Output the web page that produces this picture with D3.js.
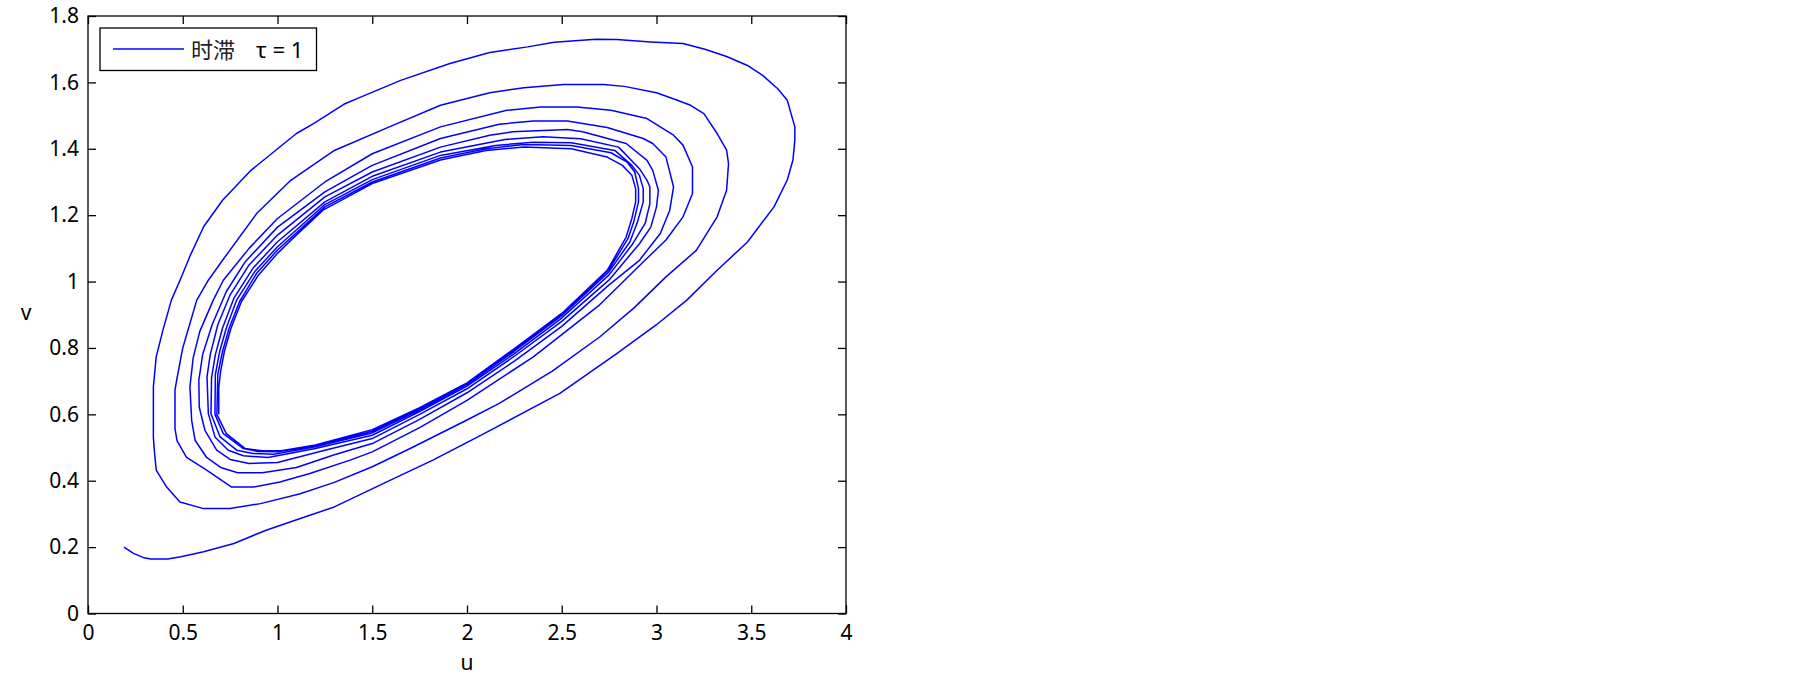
<!DOCTYPE html>
<html>
<head>
<meta charset="utf-8">
<script src="https://cdn.jsdelivr.net/npm/d3@7"></script>
<style>
  html, body { margin: 0; padding: 0; background: #ffffff; }
  svg { display: block; }
</style>
</head>
<body>
<svg id="chart" width="1805" height="677"></svg>
<script>
// ---- data (u, v), spiral pass by pass ----
const xTicks = [0, 0.5, 1, 1.5, 2, 2.5, 3, 3.5, 4];
const xTickLabels = ["0", "0.5", "1", "1.5", "2", "2.5", "3", "3.5", "4"];
const yTicks = [0, 0.2, 0.4, 0.6, 0.8, 1, 1.2, 1.4, 1.6, 1.8];
const yTickLabels = ["0", "0.2", "0.4", "0.6", "0.8", "1", "1.2", "1.4", "1.6", "1.8"];
const xLabel = "u";
const yLabel = "v";
const legendLabelCN = "时滞";
const legendLabelTau = "τ = 1";

const pass1 = [
  [0.19,0.200],[0.24,0.181],[0.29,0.169],[0.33,0.164],[0.42,0.164],[0.49,0.171],[0.61,0.186],[0.77,0.211],
  [0.94,0.251],[1.12,0.286],[1.30,0.321],[1.56,0.392],[1.82,0.462],[2.09,0.542],[2.49,0.663],[2.79,0.783],
  [3.00,0.870],[3.16,0.944],[3.32,1.034],[3.48,1.119],[3.62,1.225],[3.69,1.306],[3.72,1.366],[3.73,1.426],
  [3.73,1.466],[3.71,1.506],[3.69,1.546],[3.64,1.581],[3.56,1.621],[3.48,1.651],[3.37,1.678],[3.26,1.699],
  [3.14,1.717],[2.97,1.722],[2.79,1.729],[2.68,1.730],[2.46,1.721],[2.32,1.707],[2.12,1.690],[1.91,1.657],
  [1.65,1.606],[1.42,1.551],[1.35,1.534],[1.19,1.476],[1.10,1.446],[0.86,1.335],[0.71,1.245],[0.61,1.165],
  [0.54,1.079],[0.49,1.010],[0.44,0.944],[0.395,0.853],[0.36,0.773],[0.345,0.683],[0.345,0.530],[0.35,0.492],
  [0.36,0.432],[0.415,0.381],[0.485,0.336],[0.61,0.316],[0.75,0.316],[0.91,0.331],[1.12,0.361],[1.30,0.395]
];
const pass2 = [
  [1.50,0.442],[1.70,0.497],[2.00,0.583],[2.17,0.633],[2.45,0.730],[2.70,0.833],[2.88,0.920],[3.05,1.014],
  [3.21,1.094],[3.32,1.195],[3.37,1.275],[3.38,1.355],[3.37,1.396],[3.32,1.446],[3.25,1.506],[3.18,1.531],
  [3.11,1.546],[3.00,1.569],[2.83,1.588],[2.72,1.594],[2.51,1.594],[2.30,1.584],[2.12,1.569],[1.86,1.531],
  [1.59,1.466],[1.30,1.395],[1.07,1.305],[0.89,1.205],[0.71,1.064],[0.635,1.004],[0.574,0.944],[0.50,0.800],
  [0.468,0.703],[0.459,0.673],[0.459,0.557],[0.47,0.520],[0.52,0.470],[0.626,0.432],[0.758,0.381],[0.873,0.381],
  [1.013,0.396],[1.171,0.422],[1.383,0.462]
];
const pass3 = [
  [1.50,0.487],[1.75,0.560],[2.00,0.642],[2.35,0.773],[2.50,0.840],[2.70,0.930],[2.95,1.070],[3.05,1.125],
  [3.14,1.195],[3.19,1.265],[3.19,1.345],[3.14,1.411],[3.09,1.441],[2.95,1.491],[2.76,1.516],[2.58,1.526],
  [2.39,1.526],[2.21,1.516],[1.86,1.466],[1.50,1.385],[1.25,1.300],[1.00,1.190],[0.85,1.100],[0.714,1.004],
  [0.661,0.944],[0.59,0.850],[0.555,0.770],[0.538,0.683],[0.547,0.582],[0.565,0.522],[0.626,0.470],[0.70,0.440],
  [0.79,0.424],[0.92,0.424],[1.10,0.440],[1.30,0.478]
];
const pass4 = [
  [1.50,0.512],[1.75,0.585],[2.00,0.665],[2.25,0.760],[2.50,0.865],[2.75,0.990],[2.91,1.064],[3.02,1.145],
  [3.07,1.215],[3.09,1.285],[3.05,1.375],[2.98,1.416],[2.93,1.431],[2.74,1.464],[2.53,1.484],[2.35,1.484],
  [2.17,1.474],[1.86,1.431],[1.50,1.350],[1.25,1.270],[1.00,1.164],[0.83,1.060],[0.73,0.970],[0.655,0.870],
  [0.605,0.780],[0.585,0.703],[0.587,0.622],[0.617,0.552],[0.679,0.492],[0.75,0.464],[0.85,0.452],[1.00,0.455],
  [1.25,0.492]
];
const pass5 = [
  [1.50,0.527],[1.75,0.600],[2.00,0.677],[2.25,0.775],[2.50,0.880],[2.75,1.005],[2.91,1.114],[2.97,1.164],
  [3.00,1.225],[3.01,1.275],[2.98,1.335],[2.95,1.365],[2.84,1.416],[2.61,1.451],[2.53,1.458],[2.24,1.451],
  [2.12,1.441],[1.86,1.405],[1.50,1.330],[1.25,1.255],[1.00,1.140],[0.85,1.050],[0.75,0.960],[0.685,0.870],
  [0.645,0.780],[0.628,0.713],[0.635,0.602],[0.670,0.532],[0.740,0.492],[0.82,0.475],[0.95,0.470],[1.20,0.497]
];
const pass6 = [
  [1.50,0.537],[1.75,0.608],[2.00,0.685],[2.25,0.783],[2.50,0.890],[2.75,1.020],[2.87,1.110],[2.94,1.175],
  [2.965,1.235],[2.965,1.285],[2.95,1.305],[2.91,1.340],[2.80,1.405],[2.60,1.430],[2.40,1.436],[2.20,1.428],
  [1.86,1.390],[1.50,1.317],[1.25,1.240],[1.00,1.120],[0.87,1.040],[0.77,0.950],[0.71,0.860],[0.672,0.780],
  [0.652,0.710],[0.649,0.602],[0.697,0.532],[0.785,0.492],[0.87,0.482],[0.98,0.480],[1.20,0.502]
];
const pass7 = [
  [1.50,0.544],[1.75,0.613],[2.00,0.690],[2.25,0.790],[2.50,0.897],[2.75,1.030],[2.86,1.120],[2.90,1.180],
  [2.93,1.240],[2.93,1.280],[2.91,1.320],[2.87,1.350],[2.78,1.395],[2.55,1.418],[2.35,1.420],[2.15,1.410],
  [1.86,1.380],[1.50,1.307],[1.25,1.232],[1.00,1.105],[0.88,1.030],[0.785,0.945],[0.73,0.860],[0.695,0.790],
  [0.672,0.720],[0.67,0.600],[0.714,0.542],[0.82,0.497],[0.90,0.488],[1.00,0.487],[1.20,0.505]
];
const pass8 = [
  [1.50,0.549],[1.75,0.617],[2.00,0.693],[2.25,0.795],[2.50,0.901],[2.75,1.037],[2.85,1.130],[2.88,1.180],
  [2.905,1.240],[2.905,1.280],[2.885,1.330],[2.845,1.360],[2.76,1.388],[2.55,1.410],[2.30,1.413],[2.10,1.400],
  [1.86,1.372],[1.50,1.300],[1.25,1.225],[1.00,1.095],[0.89,1.025],[0.80,0.940],[0.745,0.860],[0.71,0.790],
  [0.685,0.720],[0.68,0.600],[0.73,0.542],[0.83,0.497],[0.92,0.490],[1.02,0.490],[1.20,0.508]
];
const pass9 = [
  [1.50,0.554],[1.75,0.620],[2.00,0.695],[2.25,0.798],[2.50,0.904],[2.74,1.034],[2.84,1.134],[2.87,1.190],
  [2.89,1.240],[2.89,1.280],[2.87,1.320],[2.82,1.350],[2.74,1.375],[2.55,1.400],[2.30,1.405],[2.10,1.395],
  [1.86,1.366],[1.50,1.295],[1.24,1.215],[1.07,1.124],[1.00,1.085],[0.90,1.020],[0.81,0.940],[0.755,0.860],
  [0.72,0.790],[0.70,0.730],[0.69,0.680],[0.69,0.600]
];
const trajectory = [].concat(pass1, pass2, pass3, pass4, pass5, pass6, pass7, pass8, pass9);

// ---- layout ----
const svg = d3.select("#chart");
const plot = { left: 88, top: 16, right: 846, bottom: 613.5 };
const fontFamily = '"Noto Sans", "Open Sans", sans-serif';
const cjkFont = '"Noto Sans CJK SC", "Noto Sans", sans-serif';

const x = d3.scaleLinear().domain([0, 4]).range([plot.left, plot.right]);
const y = d3.scaleLinear().domain([0, 1.8]).range([plot.bottom, plot.top]);

const tickLen = 8;

const gx = svg.append("g").attr("transform", `translate(0,${plot.bottom})`)
  .call(d3.axisBottom(x).tickValues(xTicks).tickFormat((d, i) => xTickLabels[i])
    .tickSizeInner(-tickLen).tickSizeOuter(0).tickPadding(12));
const gy = svg.append("g").attr("transform", `translate(${plot.left},0)`)
  .call(d3.axisLeft(y).tickValues(yTicks).tickFormat((d, i) => yTickLabels[i])
    .tickSizeInner(-tickLen).tickSizeOuter(0).tickPadding(9));
const gt = svg.append("g").attr("transform", `translate(0,${plot.top})`)
  .call(d3.axisTop(x).tickValues(xTicks).tickFormat("").tickSizeInner(-tickLen).tickSizeOuter(0));
const gr = svg.append("g").attr("transform", `translate(${plot.right},0)`)
  .call(d3.axisRight(y).tickValues(yTicks).tickFormat("").tickSizeInner(-tickLen).tickSizeOuter(0));

[gx, gy, gt, gr].forEach(g => {
  g.select(".domain").remove();
  g.selectAll(".tick line").attr("stroke", "#000").attr("stroke-width", 1.3);
  g.selectAll(".tick text").attr("fill", "#000").style("font-size", "21px").style("font-family", fontFamily);
});

svg.append("rect")
  .attr("x", plot.left).attr("y", plot.top)
  .attr("width", plot.right - plot.left).attr("height", plot.bottom - plot.top)
  .attr("fill", "none").attr("stroke", "#000").attr("stroke-width", 1.3);

const line = d3.line().x(d => x(d[0])).y(d => y(d[1])).curve(d3.curveLinear);
svg.append("path")
  .datum(trajectory)
  .attr("d", line)
  .attr("fill", "none")
  .attr("stroke", "#0000ff")
  .attr("stroke-width", 1.5)
  .attr("stroke-linejoin", "round");

svg.append("text")
  .attr("x", (plot.left + plot.right) / 2).attr("y", 670)
  .attr("text-anchor", "middle")
  .style("font-family", fontFamily).style("font-size", "21px")
  .text(xLabel);
svg.append("text")
  .attr("x", 26).attr("y", (plot.top + plot.bottom) / 2)
  .attr("text-anchor", "middle").attr("dominant-baseline", "middle")
  .style("font-family", fontFamily).style("font-size", "21px")
  .text(yLabel);

const lg = svg.append("g");
lg.append("rect")
  .attr("x", 100).attr("y", 28).attr("width", 216.5).attr("height", 42.5)
  .attr("fill", "#fff").attr("stroke", "#000").attr("stroke-width", 1.3);
lg.append("line")
  .attr("x1", 113).attr("x2", 184).attr("y1", 49).attr("y2", 49)
  .attr("stroke", "#0000ff").attr("stroke-width", 1.5);
lg.append("text")
  .attr("x", 191).attr("y", 58)
  .style("font-family", cjkFont).style("font-size", "22px").attr("fill", "#222")
  .text(legendLabelCN);
lg.append("text")
  .attr("x", 256).attr("y", 58)
  .style("font-family", fontFamily).style("font-size", "22px").attr("fill", "#000")
  .text(legendLabelTau);
</script>
</body>
</html>
